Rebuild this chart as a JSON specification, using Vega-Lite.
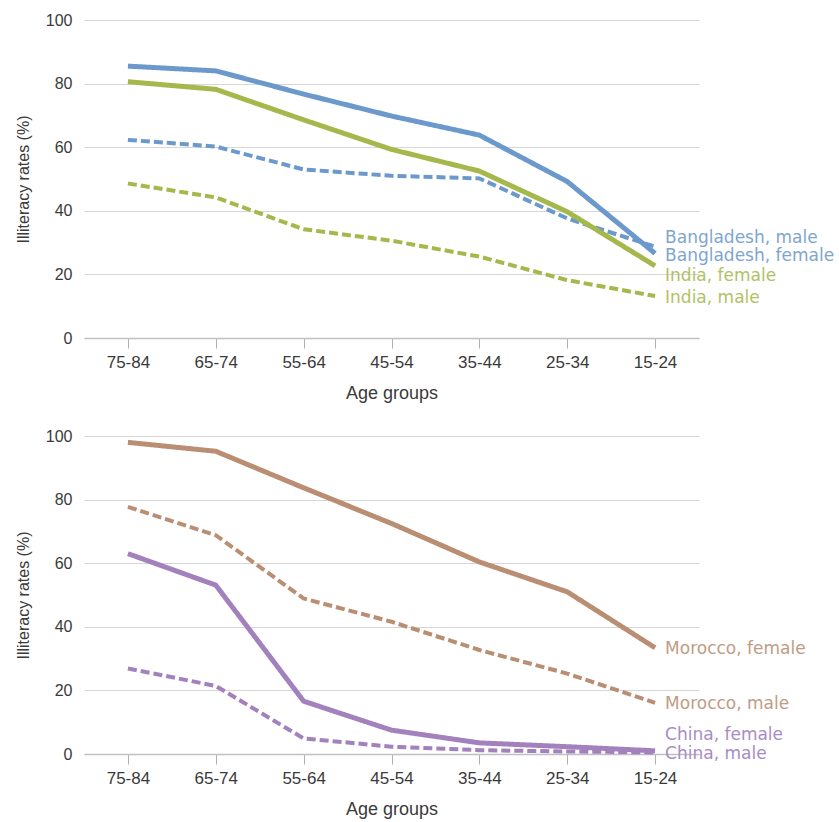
{
  "$schema": "https://vega.github.io/schema/vega-lite/v6.json",
  "background": "white",
  "padding": {"left": 15, "top": 12, "right": 2, "bottom": 5},
  "spacing": 26,
  "config": {
    "view": {"stroke": null},
    "font": "Liberation Sans",
    "axis": {"labelFont": "Liberation Sans", "titleFont": "Liberation Sans", "labelColor": "#3a3a3a", "titleColor": "#3a3a3a", "titleFontWeight": "normal"}
  },
  "datasets": {
    "rates": [
      {"panel": "top", "series": "Bangladesh, female", "sex": "female", "age": "75-84", "value": 85.5},
      {"panel": "top", "series": "Bangladesh, female", "sex": "female", "age": "65-74", "value": 84.0},
      {"panel": "top", "series": "Bangladesh, female", "sex": "female", "age": "55-64", "value": 76.7},
      {"panel": "top", "series": "Bangladesh, female", "sex": "female", "age": "45-54", "value": 69.8},
      {"panel": "top", "series": "Bangladesh, female", "sex": "female", "age": "35-44", "value": 63.8},
      {"panel": "top", "series": "Bangladesh, female", "sex": "female", "age": "25-34", "value": 49.2},
      {"panel": "top", "series": "Bangladesh, female", "sex": "female", "age": "15-24", "value": 26.6},
      {"panel": "top", "series": "Bangladesh, male", "sex": "male", "age": "75-84", "value": 62.3},
      {"panel": "top", "series": "Bangladesh, male", "sex": "male", "age": "65-74", "value": 60.2},
      {"panel": "top", "series": "Bangladesh, male", "sex": "male", "age": "55-64", "value": 53.0},
      {"panel": "top", "series": "Bangladesh, male", "sex": "male", "age": "45-54", "value": 51.0},
      {"panel": "top", "series": "Bangladesh, male", "sex": "male", "age": "35-44", "value": 50.2},
      {"panel": "top", "series": "Bangladesh, male", "sex": "male", "age": "25-34", "value": 37.6},
      {"panel": "top", "series": "Bangladesh, male", "sex": "male", "age": "15-24", "value": 28.7},
      {"panel": "top", "series": "India, female", "sex": "female", "age": "75-84", "value": 80.6},
      {"panel": "top", "series": "India, female", "sex": "female", "age": "65-74", "value": 78.2},
      {"panel": "top", "series": "India, female", "sex": "female", "age": "55-64", "value": 68.6},
      {"panel": "top", "series": "India, female", "sex": "female", "age": "45-54", "value": 59.3},
      {"panel": "top", "series": "India, female", "sex": "female", "age": "35-44", "value": 52.5},
      {"panel": "top", "series": "India, female", "sex": "female", "age": "25-34", "value": 39.7},
      {"panel": "top", "series": "India, female", "sex": "female", "age": "15-24", "value": 22.7},
      {"panel": "top", "series": "India, male", "sex": "male", "age": "75-84", "value": 48.6},
      {"panel": "top", "series": "India, male", "sex": "male", "age": "65-74", "value": 44.2},
      {"panel": "top", "series": "India, male", "sex": "male", "age": "55-64", "value": 34.2},
      {"panel": "top", "series": "India, male", "sex": "male", "age": "45-54", "value": 30.6},
      {"panel": "top", "series": "India, male", "sex": "male", "age": "35-44", "value": 25.6},
      {"panel": "top", "series": "India, male", "sex": "male", "age": "25-34", "value": 18.2},
      {"panel": "top", "series": "India, male", "sex": "male", "age": "15-24", "value": 13.2},
      {"panel": "bottom", "series": "Morocco, female", "sex": "female", "age": "75-84", "value": 98.0},
      {"panel": "bottom", "series": "Morocco, female", "sex": "female", "age": "65-74", "value": 95.2},
      {"panel": "bottom", "series": "Morocco, female", "sex": "female", "age": "55-64", "value": 83.7},
      {"panel": "bottom", "series": "Morocco, female", "sex": "female", "age": "45-54", "value": 72.5},
      {"panel": "bottom", "series": "Morocco, female", "sex": "female", "age": "35-44", "value": 60.4},
      {"panel": "bottom", "series": "Morocco, female", "sex": "female", "age": "25-34", "value": 51.0},
      {"panel": "bottom", "series": "Morocco, female", "sex": "female", "age": "15-24", "value": 33.4},
      {"panel": "bottom", "series": "Morocco, male", "sex": "male", "age": "75-84", "value": 77.7},
      {"panel": "bottom", "series": "Morocco, male", "sex": "male", "age": "65-74", "value": 68.8},
      {"panel": "bottom", "series": "Morocco, male", "sex": "male", "age": "55-64", "value": 48.9},
      {"panel": "bottom", "series": "Morocco, male", "sex": "male", "age": "45-54", "value": 41.6},
      {"panel": "bottom", "series": "Morocco, male", "sex": "male", "age": "35-44", "value": 32.7},
      {"panel": "bottom", "series": "Morocco, male", "sex": "male", "age": "25-34", "value": 25.3},
      {"panel": "bottom", "series": "Morocco, male", "sex": "male", "age": "15-24", "value": 16.1},
      {"panel": "bottom", "series": "China, female", "sex": "female", "age": "75-84", "value": 63.0},
      {"panel": "bottom", "series": "China, female", "sex": "female", "age": "65-74", "value": 53.1},
      {"panel": "bottom", "series": "China, female", "sex": "female", "age": "55-64", "value": 16.6},
      {"panel": "bottom", "series": "China, female", "sex": "female", "age": "45-54", "value": 7.5},
      {"panel": "bottom", "series": "China, female", "sex": "female", "age": "35-44", "value": 3.5},
      {"panel": "bottom", "series": "China, female", "sex": "female", "age": "25-34", "value": 2.3},
      {"panel": "bottom", "series": "China, female", "sex": "female", "age": "15-24", "value": 1.0},
      {"panel": "bottom", "series": "China, male", "sex": "male", "age": "75-84", "value": 26.9},
      {"panel": "bottom", "series": "China, male", "sex": "male", "age": "65-74", "value": 21.4},
      {"panel": "bottom", "series": "China, male", "sex": "male", "age": "55-64", "value": 4.9},
      {"panel": "bottom", "series": "China, male", "sex": "male", "age": "45-54", "value": 2.3},
      {"panel": "bottom", "series": "China, male", "sex": "male", "age": "35-44", "value": 1.2},
      {"panel": "bottom", "series": "China, male", "sex": "male", "age": "25-34", "value": 0.8},
      {"panel": "bottom", "series": "China, male", "sex": "male", "age": "15-24", "value": 0.5}
    ]
  },
  "resolve": {"scale": {"color": "independent", "strokeDash": "independent", "strokeWidth": "independent"}},
  "vconcat": [
    {
      "width": 615,
      "height": 318,
      "data": {"name": "rates"},
      "transform": [{"filter": "datum.panel === 'top'"}],
      "encoding": {
        "x": {"field": "age", "type": "nominal", "sort": ["75-84", "65-74", "55-64", "45-54", "35-44", "25-34", "15-24"],
          "scale": {"type": "point", "padding": 0.5},
          "axis": {"title": "Age groups", "labelAngle": 0, "labelFontSize": 17, "titleFontSize": 18, "titlePadding": 14, "labelPadding": 6, "tickSize": 10, "tickColor": "#b0b0b0", "domainColor": "#c0c0c0", "domainWidth": 1.5, "grid": false}},
        "y": {"field": "value", "type": "quantitative", "scale": {"domain": [0, 100]},
          "axis": {"title": "Illiteracy rates (%)", "values": [0, 20, 40, 60, 80, 100], "labelFontSize": 16, "titleFontSize": 16, "titlePadding": 14, "labelPadding": 12, "ticks": false, "domain": false, "grid": true, "gridColor": "#d6d6d6", "gridWidth": 1.2}}
      },
      "layer": [
        {
          "mark": {"type": "line"},
          "encoding": {
            "detail": {"field": "series"},
            "color": {"field": "series", "type": "nominal", "legend": null,
              "scale": {"domain": ["Bangladesh, female", "Bangladesh, male", "India, female", "India, male"], "range": ["#6b99cb", "#6b99cb", "#a5b84c", "#a5b84c"]}},
            "strokeDash": {"field": "sex", "type": "nominal", "legend": null, "scale": {"domain": ["female", "male"], "range": [[1, 0], [9, 4]]}},
            "strokeWidth": {"field": "sex", "type": "nominal", "legend": null, "scale": {"domain": ["female", "male"], "range": [5, 4]}}
          }
        },
        {
          "transform": [{"filter": "datum.age === '15-24' && datum.series === 'Bangladesh, male'"}],
          "mark": {"type": "text", "align": "left", "baseline": "middle", "dx": 10, "dy": -9, "font": "DejaVu Sans", "fontSize": 17, "color": "#7ea5d1"},
          "encoding": {"text": {"field": "series"}}
        },
        {
          "transform": [{"filter": "datum.age === '15-24' && datum.series === 'Bangladesh, female'"}],
          "mark": {"type": "text", "align": "left", "baseline": "middle", "dx": 10, "dy": 3, "font": "DejaVu Sans", "fontSize": 17, "color": "#7ea5d1"},
          "encoding": {"text": {"field": "series"}}
        },
        {
          "transform": [{"filter": "datum.age === '15-24' && datum.series === 'India, female'"}],
          "mark": {"type": "text", "align": "left", "baseline": "middle", "dx": 10, "dy": 10, "font": "DejaVu Sans", "fontSize": 17, "color": "#b1c166"},
          "encoding": {"text": {"field": "series"}}
        },
        {
          "transform": [{"filter": "datum.age === '15-24' && datum.series === 'India, male'"}],
          "mark": {"type": "text", "align": "left", "baseline": "middle", "dx": 10, "dy": 2, "font": "DejaVu Sans", "fontSize": 17, "color": "#b1c166"},
          "encoding": {"text": {"field": "series"}}
        }
      ]
    },
    {
      "width": 615,
      "height": 318,
      "data": {"name": "rates"},
      "transform": [{"filter": "datum.panel === 'bottom'"}],
      "encoding": {
        "x": {"field": "age", "type": "nominal", "sort": ["75-84", "65-74", "55-64", "45-54", "35-44", "25-34", "15-24"],
          "scale": {"type": "point", "padding": 0.5},
          "axis": {"title": "Age groups", "labelAngle": 0, "labelFontSize": 17, "titleFontSize": 18, "titlePadding": 14, "labelPadding": 6, "tickSize": 10, "tickColor": "#b0b0b0", "domainColor": "#c0c0c0", "domainWidth": 1.5, "grid": false}},
        "y": {"field": "value", "type": "quantitative", "scale": {"domain": [0, 100]},
          "axis": {"title": "Illiteracy rates (%)", "values": [0, 20, 40, 60, 80, 100], "labelFontSize": 16, "titleFontSize": 16, "titlePadding": 14, "labelPadding": 12, "ticks": false, "domain": false, "grid": true, "gridColor": "#d6d6d6", "gridWidth": 1.2}}
      },
      "layer": [
        {
          "mark": {"type": "line"},
          "encoding": {
            "detail": {"field": "series"},
            "color": {"field": "series", "type": "nominal", "legend": null,
              "scale": {"domain": ["Morocco, female", "Morocco, male", "China, female", "China, male"], "range": ["#b98e72", "#b98e72", "#a381bd", "#a381bd"]}},
            "strokeDash": {"field": "sex", "type": "nominal", "legend": null, "scale": {"domain": ["female", "male"], "range": [[1, 0], [9, 4]]}},
            "strokeWidth": {"field": "sex", "type": "nominal", "legend": null, "scale": {"domain": ["female", "male"], "range": [5, 4]}}
          }
        },
        {
          "transform": [{"filter": "datum.age === '15-24' && datum.series === 'Morocco, female'"}],
          "mark": {"type": "text", "align": "left", "baseline": "middle", "dx": 10, "dy": 1, "font": "DejaVu Sans", "fontSize": 17, "color": "#c09c85"},
          "encoding": {"text": {"field": "series"}}
        },
        {
          "transform": [{"filter": "datum.age === '15-24' && datum.series === 'Morocco, male'"}],
          "mark": {"type": "text", "align": "left", "baseline": "middle", "dx": 10, "dy": 1, "font": "DejaVu Sans", "fontSize": 17, "color": "#c09c85"},
          "encoding": {"text": {"field": "series"}}
        },
        {
          "transform": [{"filter": "datum.age === '15-24' && datum.series === 'China, female'"}],
          "mark": {"type": "text", "align": "left", "baseline": "middle", "dx": 10, "dy": -16, "font": "DejaVu Sans", "fontSize": 17, "color": "#a98cc4"},
          "encoding": {"text": {"field": "series"}}
        },
        {
          "transform": [{"filter": "datum.age === '15-24' && datum.series === 'China, male'"}],
          "mark": {"type": "text", "align": "left", "baseline": "middle", "dx": 10, "dy": 2, "font": "DejaVu Sans", "fontSize": 17, "color": "#a98cc4"},
          "encoding": {"text": {"field": "series"}}
        }
      ]
    }
  ]
}
